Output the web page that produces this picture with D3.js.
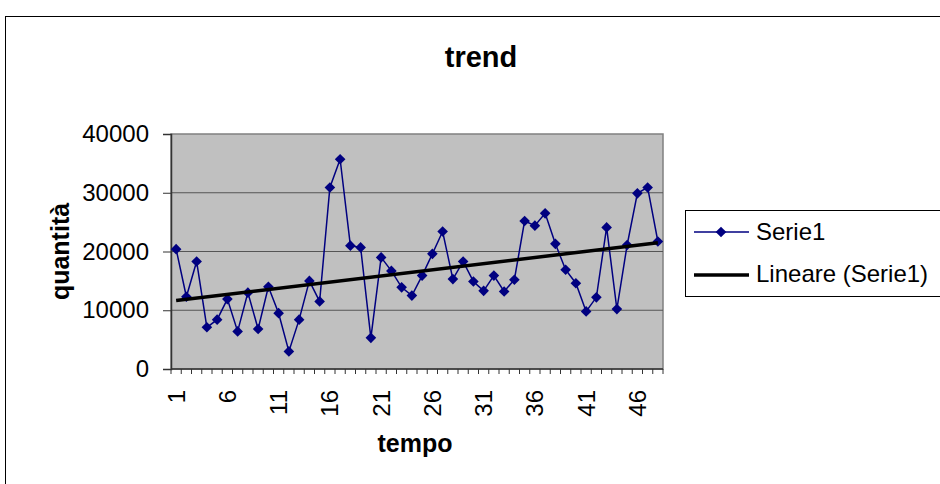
<!DOCTYPE html>
<html lang="it">
<head>
<meta charset="UTF-8">
<title>trend</title>
<script src="https://cdn.jsdelivr.net/npm/d3@7"></script>
<style>
  body { margin: 0; background: #fff; }
  text { font-family: "Liberation Sans", Arial, sans-serif; }
</style>
</head>
<body>
<script>
const periods = d3.range(1, 49);
const quantita = [20400, 12300, 18300, 7100, 8400, 11900, 6400, 13000, 6800, 14000,
  9500, 3000, 8400, 15000, 11500, 30900, 35700, 21000, 20700, 5300,
  19000, 16700, 13900, 12500, 15900, 19600, 23400, 15300, 18300, 14900,
  13300, 15900, 13200, 15200, 25200, 24400, 26500, 21300, 16900, 14600,
  9800, 12200, 24100, 10200, 21100, 29900, 30900, 21700];
const yTicks = [0, 10000, 20000, 30000, 40000];
const xTickLabels = [1, 6, 11, 16, 21, 26, 31, 36, 41, 46];

const width = 940, height = 484;
const plot = { left: 171, right: 663, top: 134, bottom: 369 };
const fs = "24px";

const svg = d3.select("body").append("svg")
    .attr("width", width).attr("height", height);

// outer chart frame
svg.append("rect")
    .attr("x", 5.5).attr("y", 16.5).attr("width", 960).attr("height", 500)
    .attr("fill", "#fff").attr("stroke", "#000").attr("stroke-width", 1);

svg.append("text")
    .attr("x", 481).attr("y", 67).attr("text-anchor", "middle")
    .style("font-size", "29px").style("font-weight", "bold")
    .text("trend");

const x = d3.scaleBand().domain(periods).range([plot.left, plot.right]);
const y = d3.scaleLinear().domain([0, 40000]).range([plot.bottom, plot.top]);

// plot area
svg.append("rect")
    .attr("x", plot.left).attr("y", plot.top)
    .attr("width", plot.right - plot.left).attr("height", plot.bottom - plot.top)
    .attr("fill", "#c0c0c0").attr("stroke", "#808080").attr("stroke-width", 1.5);

svg.append("g").selectAll("line")
    .data(yTicks.slice(1, -1)).enter().append("line")
    .attr("x1", plot.left).attr("x2", plot.right)
    .attr("y1", d => y(d)).attr("y2", d => y(d))
    .attr("stroke", "#555").attr("stroke-width", 1);

// y axis
const yAxis = svg.append("g")
    .attr("transform", `translate(${plot.left},0)`)
    .call(d3.axisLeft(y).tickValues(yTicks).tickSize(8).tickPadding(14).tickFormat(d3.format("d")));
yAxis.select(".domain").attr("stroke", "#333").attr("stroke-width", 1.5);
yAxis.selectAll(".tick line").attr("stroke", "#333");
yAxis.selectAll("text").style("font-size", fs).attr("fill", "#000")
    .style("font-family", "'Liberation Sans', Arial, sans-serif");

// x axis: ticks at category boundaries
const xAxisG = svg.append("g").attr("transform", `translate(0,${plot.bottom})`);
xAxisG.append("line").attr("x1", plot.left).attr("x2", plot.right)
    .attr("stroke", "#333").attr("stroke-width", 1.5);
xAxisG.selectAll("line.tk").data(periods.concat([49])).enter().append("line")
    .attr("class", "tk")
    .attr("x1", d => d <= 48 ? x(d) : plot.right)
    .attr("x2", d => d <= 48 ? x(d) : plot.right)
    .attr("y1", 0).attr("y2", 5).attr("stroke", "#333");
xAxisG.selectAll("text").data(xTickLabels).enter().append("text")
    .attr("transform", d => `translate(${x(d) + x.bandwidth() / 2 + 8.5},21) rotate(-90)`)
    .attr("text-anchor", "end")
    .style("font-size", fs)
    .text(d => d);

// axis titles
svg.append("text")
    .attr("transform", `translate(69,${(plot.top + plot.bottom) / 2}) rotate(-90)`)
    .attr("text-anchor", "middle")
    .style("font-size", "25px").style("font-weight", "bold")
    .text("quantità");
svg.append("text")
    .attr("x", 415).attr("y", 452).attr("text-anchor", "middle")
    .style("font-size", "25px").style("font-weight", "bold")
    .text("tempo");

// series
const cx = d => x(d) + x.bandwidth() / 2;
const pts = periods.map((p, i) => [p, quantita[i]]);

svg.append("path").datum(pts)
    .attr("fill", "none").attr("stroke", "#000080").attr("stroke-width", 1.5)
    .attr("d", d3.line().x(d => cx(d[0])).y(d => y(d[1])));

const diamond = d3.symbol().type(d3.symbolDiamond2).size(72);
svg.append("g").selectAll("path").data(pts).enter().append("path")
    .attr("transform", d => `translate(${cx(d[0])},${y(d[1])})`)
    .attr("d", diamond).attr("fill", "#000080");

// linear trend (least squares)
const mx = d3.mean(periods), my = d3.mean(quantita);
const slope = d3.sum(periods, (p, i) => (p - mx) * (quantita[i] - my)) /
              d3.sum(periods, p => (p - mx) * (p - mx));
const icpt = my - slope * mx;
svg.append("line")
    .attr("x1", cx(1)).attr("y1", y(icpt + slope * 1))
    .attr("x2", cx(48)).attr("y2", y(icpt + slope * 48))
    .attr("stroke", "#000").attr("stroke-width", 3.5);

// legend
const lg = svg.append("g");
lg.append("rect").attr("x", 685.5).attr("y", 210.5).attr("width", 270).attr("height", 86)
    .attr("fill", "#fff").attr("stroke", "#000");
lg.append("line").attr("x1", 694).attr("x2", 749).attr("y1", 232).attr("y2", 232)
    .attr("stroke", "#000080").attr("stroke-width", 1.5);
lg.append("path").attr("transform", "translate(721,232)").attr("d", diamond).attr("fill", "#000080");
lg.append("line").attr("x1", 694).attr("x2", 749).attr("y1", 275).attr("y2", 275)
    .attr("stroke", "#000").attr("stroke-width", 3.5);
lg.append("text").attr("x", 756).attr("y", 240).style("font-size", fs).text("Serie1");
lg.append("text").attr("x", 756).attr("y", 282).style("font-size", fs).text("Lineare (Serie1)");
</script>
</body>
</html>
